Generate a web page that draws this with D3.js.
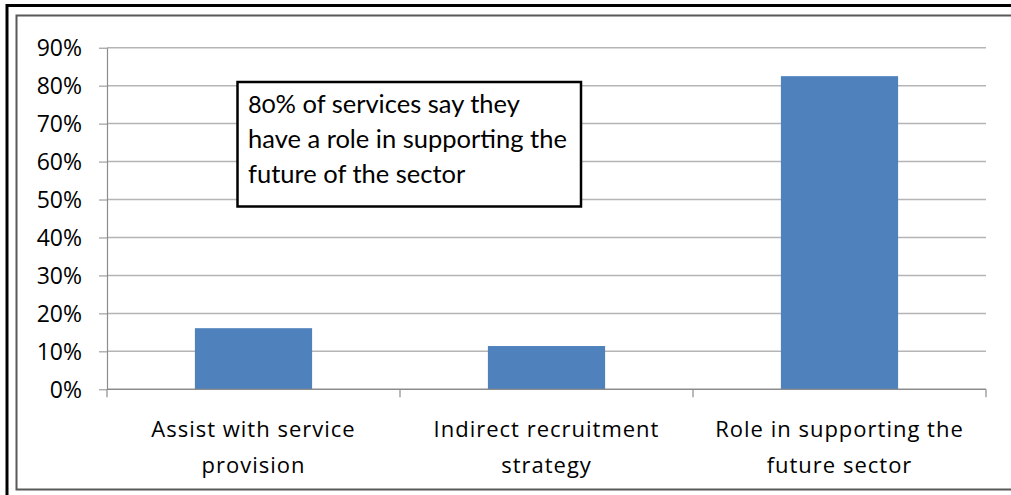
<!DOCTYPE html>
<html>
<head>
<meta charset="utf-8">
<script src="https://cdn.jsdelivr.net/npm/d3@7"></script>
<style>
  html, body { margin: 0; padding: 0; background: #fff; }
  svg { display: block; }
  .tick text { fill: #000; }
</style>
</head>
<body>
<script>
// Share of services by type of involvement
const categories = [
  ["Assist with service", "provision"],
  ["Indirect recruitment", "strategy"],
  ["Role in supporting the", "future sector"]
];
const values = [16.1, 11.4, 82.5];
const yTicks = [0, 10, 20, 30, 40, 50, 60, 70, 80, 90];
const noteLines = [
  "80% of services say they",
  "have a role in supporting the",
  "future of the sector"
];

const W = 1011, H = 495;
const svg = d3.select("body").append("svg")
  .attr("width", W).attr("height", H);

// outer and inner frames
svg.append("rect")
  .attr("x", 7).attr("y", 5.5).attr("width", W + 20).attr("height", H + 20)
  .attr("fill", "none").attr("stroke", "#000").attr("stroke-width", 3);
svg.append("rect")
  .attr("x", 16.5).attr("y", 15.5).attr("width", W + 20).attr("height", 474)
  .attr("fill", "none").attr("stroke", "#595959").attr("stroke-width", 2);

const plot = { left: 107, right: 986, top: 47.7, bottom: 389.3 };

const x = d3.scaleBand()
  .domain(d3.range(categories.length))
  .range([plot.left, plot.right])
  .paddingInner(0.6).paddingOuter(0.3);

const y = d3.scaleLinear()
  .domain([0, 90])
  .range([plot.bottom, plot.top]);

// horizontal gridlines
svg.append("g")
  .selectAll("line")
  .data(yTicks)
  .join("line")
  .attr("x1", plot.left).attr("x2", plot.right)
  .attr("y1", d => y(d)).attr("y2", d => y(d))
  .attr("stroke", "#b5b5b5").attr("stroke-width", 1.5);

// y axis
const yAxis = svg.append("g")
  .attr("transform", `translate(${plot.left},0)`)
  .call(d3.axisLeft(y).tickValues(yTicks).tickFormat(d => d + "%")
    .tickSizeInner(8).tickSizeOuter(0).tickPadding(17));
yAxis.select(".domain").attr("stroke", "#8c8c8c").attr("stroke-width", 1.2);
yAxis.selectAll(".tick line").attr("stroke", "#8c8c8c");
yAxis.selectAll(".tick text")
  .attr("font-family", "'Open Sans', sans-serif")
  .attr("font-size", 23)
  .attr("dy", "0.36em");

// bars
svg.append("g")
  .selectAll("rect")
  .data(values)
  .join("rect")
  .attr("x", (d, i) => x(i))
  .attr("width", x.bandwidth())
  .attr("y", d => y(d))
  .attr("height", d => y(0) - y(d))
  .attr("fill", "#4f81bd");

// x axis baseline and category boundary ticks
const step = x.step();
const bounds = d3.range(categories.length + 1).map(i => plot.left + i * step);
svg.append("line")
  .attr("x1", plot.left).attr("x2", plot.right)
  .attr("y1", y(0)).attr("y2", y(0))
  .attr("stroke", "#8c8c8c").attr("stroke-width", 1.2);
svg.append("g")
  .selectAll("line")
  .data(bounds)
  .join("line")
  .attr("x1", d => d).attr("x2", d => d)
  .attr("y1", y(0)).attr("y2", y(0) + 8)
  .attr("stroke", "#8c8c8c").attr("stroke-width", 1.2);

// category labels
const labels = svg.append("g")
  .selectAll("text")
  .data(categories)
  .join("text")
  .attr("x", (d, i) => x(i) + x.bandwidth() / 2)
  .attr("y", 437)
  .attr("text-anchor", "middle")
  .attr("font-family", "'Open Sans', sans-serif")
  .attr("font-size", 22)
  .attr("letter-spacing", 1)
  .attr("fill", "#000");
labels.selectAll("tspan")
  .data(d => d)
  .join("tspan")
  .attr("x", function () { return this.parentNode.getAttribute("x"); })
  .attr("dy", (d, i) => i === 0 ? 0 : 35.5)
  .text(d => d);

// note box
const note = svg.append("g");
note.append("rect")
  .attr("x", 237.5).attr("y", 82).attr("width", 343.5).attr("height", 124.5)
  .attr("fill", "#fff").attr("stroke", "#000").attr("stroke-width", 2.5);
note.append("text")
  .attr("font-family", "Lato, 'Open Sans', sans-serif")
  .attr("font-size", 25.5)
  .style("font-variant-numeric", "oldstyle-nums")
  .attr("fill", "#000")
  .selectAll("tspan")
  .data(noteLines)
  .join("tspan")
  .attr("x", 248)
  .attr("y", (d, i) => 113.3 + i * 35)
  .text(d => d);
</script>
</body>
</html>
